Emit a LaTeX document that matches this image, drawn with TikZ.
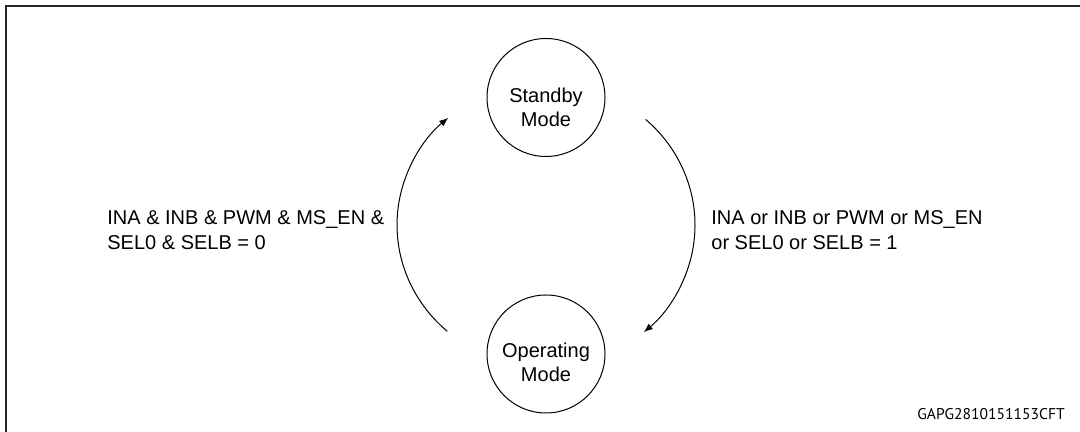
\documentclass[tikz,border=0pt]{standalone}
\usepackage{fontspec}
\setmainfont{Liberation Sans}
\newfontfamily\idfont{PT Sans}
\usetikzlibrary{arrows.meta}
\begin{document}
\begin{tikzpicture}[x=0.5pt,y=0.5pt,
  state/.style={circle,draw,line width=0.5pt,minimum size=59pt,inner sep=0pt},
  lbl/.style={font=\fontsize{10}{12}\selectfont,align=center,inner sep=0pt},
  cond/.style={font=\fontsize{10}{12.5}\selectfont,align=left,inner sep=0pt,anchor=base west},
  trans/.style={line width=0.5pt,-{Latex[length=4.5pt,width=3.5pt]}}]
\useasboundingbox (0,0) rectangle (1080,432);
\draw[line width=1pt,color=black!85] (6,0) -- (6,426) -- (1080,426);
\node[state] (standby) at (546,334.5) {};
\node[state] (operating) at (546,78) {};
\node[lbl] (standbytxt) at (546,324.3) {Standby\\Mode};
\node[lbl] (operatingtxt) at (546,70.1) {Operating\\Mode};
\coordinate (c) at (546,207);
\draw[trans] ([shift={(228.5:74.5pt and 71pt)}]c) arc[start angle=228.5,end angle=131,x radius=74.5pt,y radius=71pt];
\draw[trans] ([shift={(48:74.5pt and 71pt)}]c) arc[start angle=48,end angle=-49,x radius=74.5pt,y radius=71pt];
\node[cond] (sleepcond) at (107,182) {INA \& INB \& PWM \& MS\_EN \&\\SEL0 \& SELB = 0};
\node[cond] (wakecond) at (711,182) {INA or INB or PWM or MS\_EN\\or SEL0 or SELB = 1};
\node[inner sep=0pt,anchor=base west,font=\idfont\fontsize{7.8}{9}\selectfont] (figid) at (917,12) {GAPG2810151153CFT};
\end{tikzpicture}
\end{document}
